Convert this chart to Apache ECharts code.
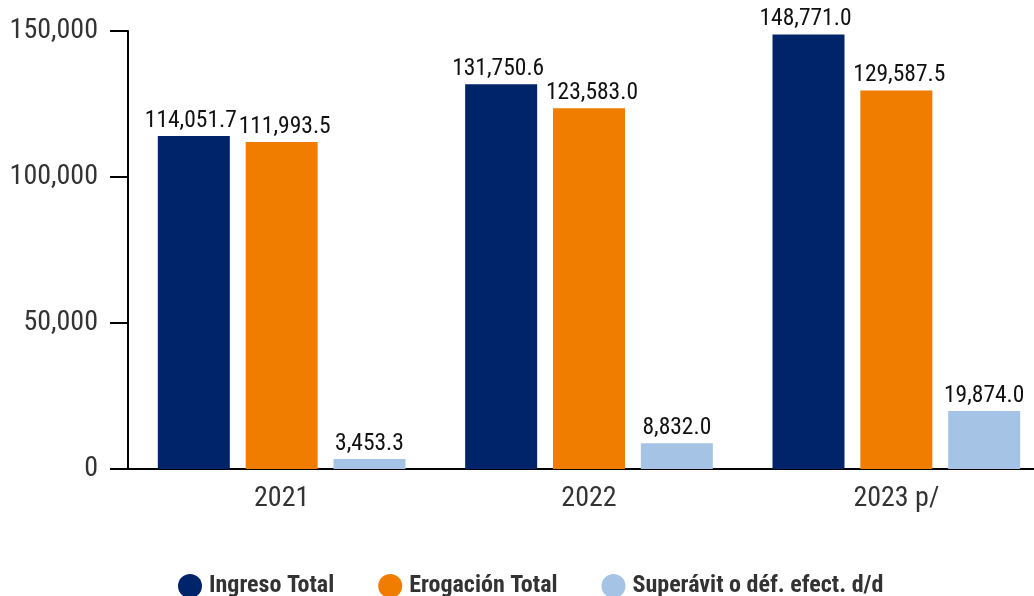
<!DOCTYPE html>
<html>
<head>
<meta charset="utf-8">
<script src="https://cdn.jsdelivr.net/npm/echarts@6/dist/echarts.min.js"></script>
<style>html,body{margin:0;padding:0;background:#fff;overflow:hidden;width:1034px;height:596px}#c{width:1050px;height:596px}</style>
</head>
<body>
<div id="c"></div>
<script>
const categories = ['2021', '2022', '2023 p/'];
const ingresoTotal = [114051.7, 131750.6, 148771.0];
const erogacionTotal = [111993.5, 123583.0, 129587.5];
const superavit = [3453.3, 8832.0, 19874.0];
const seriesNames = ['Ingreso Total', 'Erogación Total', 'Superávit o déf. efect. d/d'];
const yTicks = [0, 50000, 100000, 150000];

const FONT = '"Roboto Condensed", "Liberation Sans Narrow", "DejaVu Sans Condensed", Roboto, sans-serif';
const colors = ['#002469', '#F07D00', '#A5C3E4'];
const labelShift = [-3, 3, 0];
const fmt = v => v.toLocaleString('en-US', {minimumFractionDigits: 1, maximumFractionDigits: 1});

const chart = echarts.init(document.getElementById('c'), null, {renderer: 'canvas'});
const mk = (name, data, i) => ({
  name: name, type: 'bar', data: data,
  barWidth: 72, barGap: '22%',
  itemStyle: {color: colors[i]},
  label: {show: true, position: 'top', distance: 3, offset: [labelShift[i], 0], color: '#111', fontFamily: FONT, fontSize: 23.5,
    formatter: p => fmt(p.value)}
});
chart.setOption({
  animation: false,
  textStyle: {fontFamily: FONT},
  grid: {left: 128, right: 0, top: 31, height: 438, containLabel: false},
  legend: {
    top: 569, left: 173, icon: 'circle', itemWidth: 24, itemHeight: 24, itemGap: 44,
    textStyle: {fontFamily: FONT, fontSize: 24, fontWeight: 'bold', color: '#333', padding: [0, 0, 0, 2]},
    data: seriesNames
  },
  xAxis: {
    type: 'category', data: categories,
    axisLine: {lineStyle: {color: '#000', width: 2}},
    axisTick: {alignWithLabel: true, length: 10, lineStyle: {color: '#000', width: 2}},
    axisLabel: {color: '#333', fontSize: 28, fontFamily: FONT, margin: 16}
  },
  yAxis: {
    type: 'value', min: yTicks[0], max: yTicks[yTicks.length - 1], interval: yTicks[1] - yTicks[0],
    splitLine: {show: false},
    axisLine: {show: true, lineStyle: {color: '#000', width: 2}},
    axisTick: {show: true, length: 18, lineStyle: {color: '#000', width: 2}},
    axisLabel: {color: '#333', fontSize: 28, fontFamily: FONT, margin: 30,
      formatter: v => v.toLocaleString('en-US')}
  },
  series: [mk(seriesNames[0], ingresoTotal, 0), mk(seriesNames[1], erogacionTotal, 1), mk(seriesNames[2], superavit, 2)]
});
</script>
</body>
</html>
